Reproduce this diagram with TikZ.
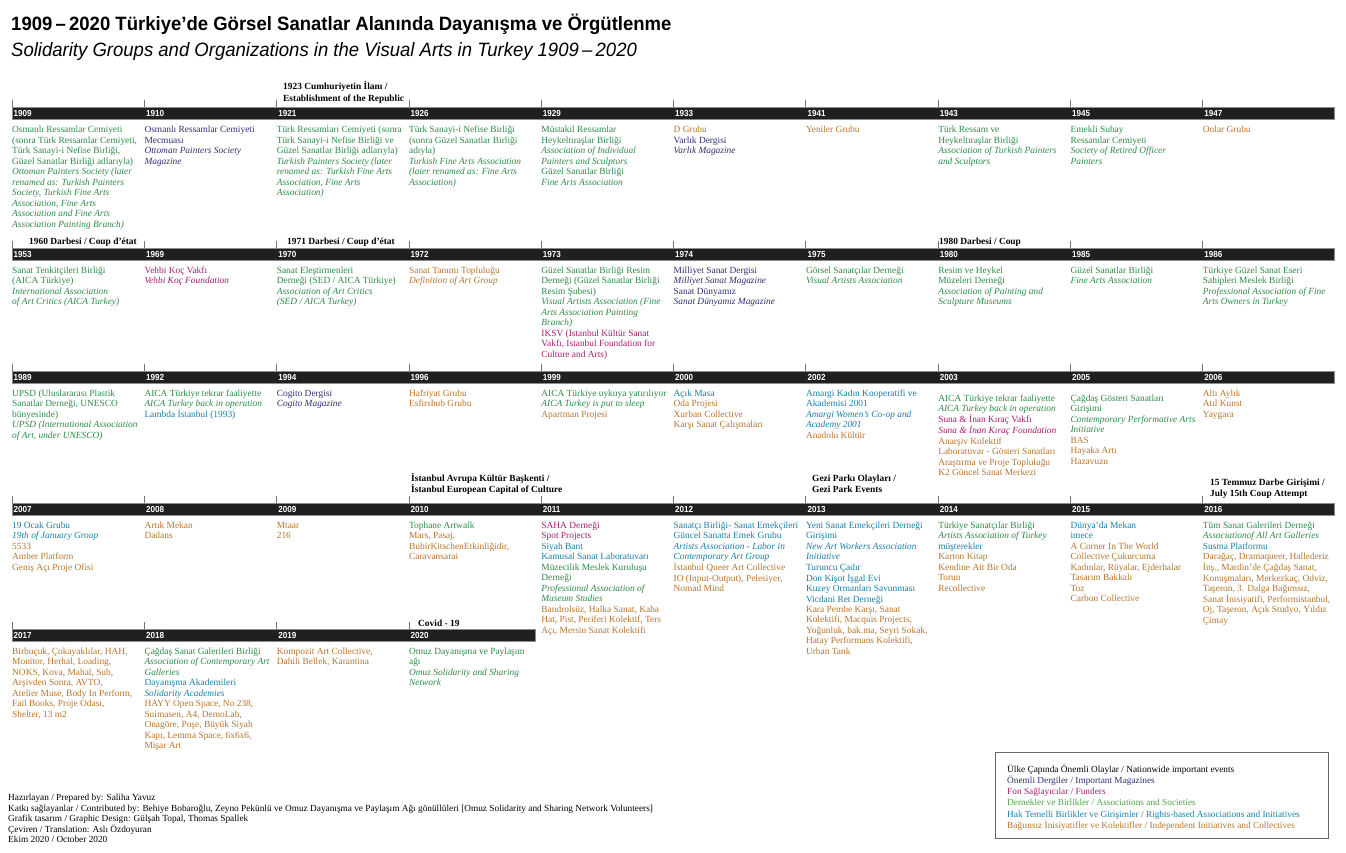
\documentclass[tikz,border=0pt]{standalone}
\usepackage{fontspec}
\setmainfont{Liberation Serif}
\newfontfamily\yearfont[FakeStretch=0.92]{Liberation Sans}
\newfontfamily\titlefont[FakeStretch=0.96]{Liberation Sans}
\definecolor{navy}{HTML}{2D3170}
\definecolor{mag}{HTML}{A3206F}
\definecolor{grn}{HTML}{2F8A48}
\definecolor{grnL}{HTML}{4FA34A}
\definecolor{rteal}{HTML}{1A7EA6}
\definecolor{brn}{HTML}{B7762E}
\definecolor{barc}{HTML}{202020}
\newcommand\cg[1]{{\color{grn}#1}}
\newcommand\cgi[1]{{\color{grn}\itshape #1}}
\newcommand\cn[1]{{\color{navy}#1}}
\newcommand\cni[1]{{\color{navy}\itshape #1}}
\newcommand\cm[1]{{\color{mag}#1}}
\newcommand\cmi[1]{{\color{mag}\itshape #1}}
\newcommand\ct[1]{{\color{rteal}#1}}
\newcommand\cti[1]{{\color{rteal}\itshape #1}}
\newcommand\cb[1]{{\color{brn}#1}}
\newcommand\cbi[1]{{\color{brn}\itshape #1}}
\newcommand\colbox[4]{\node[coltext] (#1) at (#2,#3) {\begin{tabular}[t]{@{}l@{}}#4\end{tabular}};}
\newcommand\evbox[4]{\node[evtext] (#1) at (#2,#3) {\begin{tabular}[t]{@{}l@{}}#4\end{tabular}};}
\begin{document}
\begin{tikzpicture}[x=1pt,y=-1pt,
  coltext/.style={anchor=base west,inner sep=0pt,font=\fontsize{9.4}{10.45}\selectfont},
  evtext/.style={anchor=base west,inner sep=0pt,font=\fontsize{9.4}{11.7}\selectfont\bfseries},
  yr/.style={anchor=west,inner sep=0pt,text=white,font=\yearfont\bfseries\fontsize{8.8}{9}\selectfont},
  tick/.style={draw=black!55,line width=0.7pt},
  bar/.style={fill=barc,draw=black!45,line width=0.5pt}]
\useasboundingbox (0,0) rectangle (1346,853);
\fill[white] (0,0) rectangle (1346,853);
% titles
\node[anchor=base west,inner sep=0pt,font=\titlefont\bfseries\fontsize{19.3}{20}\selectfont] (title) at (11,31) {1909\,–\,2020 Türkiye’de Görsel Sanatlar Alanında Dayanışma ve Örgütlenme};
\node[anchor=base west,inner sep=0pt,font=\titlefont\itshape\fontsize{19.3}{20}\selectfont] (subtitle) at (11,57) {Solidarity Groups and Organizations in the Visual Arts in Turkey 1909\,–\,2020};
% bars
\draw[bar] (12,107) rectangle (1334,119);
\draw[bar] (12,248) rectangle (1334,260);
\draw[bar] (12,371) rectangle (1334,383);
\draw[bar] (12,503) rectangle (1334,515);
\draw[bar] (12,629) rectangle (535,641);
\foreach \i in {0,...,9}{
  \draw[tick] ({12+132.3*\i},100) -- ++(0,7);
  \draw[tick] ({12+132.3*\i},241) -- ++(0,7);
  \draw[tick] ({12+132.3*\i},364) -- ++(0,7);
  \draw[tick] ({12+132.3*\i},496) -- ++(0,7);
}
\foreach \i in {0,...,3}{\draw[tick] ({12+132.3*\i},622) -- ++(0,7);}
% years
\foreach \yv [count=\i from 0] in {1909,1910,1921,1926,1929,1933,1941,1943,1945,1947}
  \node[yr] (y\yv) at ({13.5+132.3*\i},113) {\yv};
\foreach \yv [count=\i from 0] in {1953,1969,1970,1972,1973,1974,1975,1980,1985,1986}
  \node[yr] (y\yv) at ({13.5+132.3*\i},254) {\yv};
\foreach \yv [count=\i from 0] in {1989,1992,1994,1996,1999,2000,2002,2003,2005,2006}
  \node[yr] (y\yv) at ({13.5+132.3*\i},377) {\yv};
\foreach \yv [count=\i from 0] in {2007,2008,2009,2010,2011,2012,2013,2014,2015,2016}
  \node[yr] (y\yv) at ({13.5+132.3*\i},509) {\yv};
\foreach \yv [count=\i from 0] in {2017,2018,2019,2020}
  \node[yr] (y\yv) at ({13.5+132.3*\i},635) {\yv};
% events
\evbox{e1923}{283}{89.5}{1923 Cumhuriyetin İlanı /\\Establishment of the Republic}
\evbox{e1960}{29}{244}{1960 Darbesi / Coup d’état}
\evbox{e1971}{287}{244}{1971 Darbesi / Coup d’état}
\evbox{e1980}{939}{244}{1980 Darbesi / Coup}
\evbox{e2010}{411}{481}{İstanbul Avrupa Kültür Başkenti /\\İstanbul European Capital of Culture}
\evbox{egezi}{812}{481}{Gezi Parkı Olayları /\\Gezi Park Events}
\evbox{e2016}{1210}{485}{15 Temmuz Darbe Girişimi /\\July 15th Coup Attempt}
\evbox{ecovid}{418}{626}{Covid - 19}
% row 1
\colbox{t1909}{12}{133}{\cg{Osmanlı Ressamlar Cemiyeti}\\\cg{(sonra Türk Ressamlar Cemiyeti,}\\\cg{Türk Sanayi-i Nefise Birliği,}\\\cg{Güzel Sanatlar Birliği adlarıyla)}\\\cgi{Ottoman Painters Society (later}\\\cgi{renamed as: Turkish Painters}\\\cgi{Society, Turkish Fine Arts}\\\cgi{Association, Fine Arts}\\\cgi{Association and Fine Arts}\\\cgi{Association Painting Branch)}}
\colbox{t1910}{144.3}{133}{\cn{Osmanlı Ressamlar Cemiyeti}\\\cn{Mecmuası}\\\cni{Ottoman Painters Society}\\\cni{Magazine}}
\colbox{t1921}{276.6}{133}{\cg{Türk Ressamları Cemiyeti (sonra}\\\cg{Türk Sanayi-i Nefise Birliği ve}\\\cg{Güzel Sanatlar Birliği adlarıyla)}\\\cgi{Turkish Painters Society (later}\\\cgi{renamed as: Turkish Fine Arts}\\\cgi{Association, Fine Arts}\\\cgi{Association)}}
\colbox{t1926}{408.9}{133}{\cg{Türk Sanayi-i Nefise Birliği}\\\cg{(sonra Güzel Sanatlar Birliği}\\\cg{adıyla)}\\\cgi{Turkish Fine Arts Association}\\\cgi{(later renamed as: Fine Arts}\\\cgi{Association)}}
\colbox{t1929}{541.2}{133}{\cg{Müstakil Ressamlar}\\\cg{Heykeltıraşlar Birliği}\\\cgi{Association of Individual}\\\cgi{Painters and Sculptors}\\\cg{Güzel Sanatlar Birliği}\\\cgi{Fine Arts Association}}
\colbox{t1933}{673.5}{133}{\cb{D Grubu}\\\cn{Varlık Dergisi}\\\cni{Varlık Magazine}}
\colbox{t1941}{805.8}{133}{\cb{Yeniler Grubu}}
\colbox{t1943}{938.1}{133}{\cg{Türk Ressam ve}\\\cg{Heykeltıraşlar Birliği}\\\cgi{Association of Turkish Painters}\\\cgi{and Sculptors}}
\colbox{t1945}{1070.4}{133}{\cg{Emekli Subay}\\\cg{Ressamlar Cemiyeti}\\\cgi{Society of Retired Officer}\\\cgi{Painters}}
\colbox{t1947}{1202.7}{133}{\cb{Onlar Grubu}}
% row 2
\colbox{t1953}{12}{273.5}{\cg{Sanat Tenkitçileri Birliği}\\\cg{(AICA Türkiye)}\\\cgi{International Association}\\\cgi{of Art Critics (AICA Turkey)}}
\colbox{t1969}{144.3}{273.5}{\cm{Vehbi Koç Vakfı}\\\cmi{Vehbi Koç Foundation}}
\colbox{t1970}{276.6}{273.5}{\cg{Sanat Eleştirmenleri}\\\cg{Derneği (SED / AICA Türkiye)}\\\cgi{Association of Art Critics}\\\cgi{(SED / AICA Turkey)}}
\colbox{t1972}{408.9}{273.5}{\cb{Sanat Tanımı Topluluğu}\\\cbi{Definition of Art Group}}
\colbox{t1973}{541.2}{273.5}{\cg{Güzel Sanatlar Birliği Resim}\\\cg{Derneği (Güzel Sanatlar Birliği}\\\cg{Resim Şubesi)}\\\cgi{Visual Artists Association (Fine}\\\cgi{Arts Association Painting}\\\cgi{Branch)}\\\cm{IKSV (Istanbul Kültür Sanat}\\\cm{Vakfı, Istanbul Foundation for}\\\cm{Culture and Arts)}}
\colbox{t1974}{673.5}{273.5}{\cn{Milliyet Sanat Dergisi}\\\cni{Milliyet Sanat Magazine}\\\cn{Sanat Dünyamız}\\\cni{Sanat Dünyamız Magazine}}
\colbox{t1975}{805.8}{273.5}{\cg{Görsel Sanatçılar Derneği}\\\cgi{Visual Artists Association}}
\colbox{t1980}{938.1}{273.5}{\cg{Resim ve Heykel}\\\cg{Müzeleri Derneği}\\\cgi{Association of Painting and}\\\cgi{Sculpture Museums}}
\colbox{t1985}{1070.4}{273.5}{\cg{Güzel Sanatlar Birliği}\\\cgi{Fine Arts Association}}
\colbox{t1986}{1202.7}{273.5}{\cg{Türkiye Güzel Sanat Eseri}\\\cg{Sahipleri Meslek Birliği}\\\cgi{Professional Association of Fine}\\\cgi{Arts Owners in Turkey}}
% row 3
\colbox{t1989}{12}{396.5}{\cg{UPSD (Uluslararası Plastik}\\\cg{Sanatlar Derneği, UNESCO}\\\cg{bünyesinde)}\\\cgi{UPSD (International Association}\\\cgi{of Art, under UNESCO)}}
\colbox{t1992}{144.3}{396.5}{\cg{AICA Türkiye tekrar faaliyette}\\\cgi{AICA Turkey back in operation}\\\ct{Lambda İstanbul (1993)}}
\colbox{t1994}{276.6}{396.5}{\cn{Cogito Dergisi}\\\cni{Cogito Magazine}}
\colbox{t1996}{408.9}{396.5}{\cb{Hafriyat Grubu}\\\cb{Esfirshub Grubu}}
\colbox{t1999}{541.2}{396.5}{\cg{AICA Türkiye uykuya yatırılıyor}\\\cgi{AICA Turkey is put to sleep}\\\cb{Apartman Projesi}}
\colbox{t2000}{673.5}{396.5}{\ct{Açık Masa}\\\cb{Oda Projesi}\\\cb{Xurban Collective}\\\cb{Karşı Sanat Çalışmaları}}
\colbox{t2002}{805.8}{396.5}{\ct{Amargi Kadın Kooperatifi ve}\\\ct{Akademisi 2001}\\\cti{Amargi Women’s Co-op and}\\\cti{Academy 2001}\\\cb{Anadolu Kültür}}
\colbox{t2003}{938.1}{401.5}{\cg{AICA Türkiye tekrar faaliyette}\\\cgi{AICA Turkey back in operation}\\\cm{Suna \& İnan Kıraç Vakfı}\\\cmi{Suna \& İnan Kıraç Foundation}\\\cb{Anarşiv Kolektif}\\\cb{Laboratuvar - Gösteri Sanatları}\\\cb{Araştırma ve Proje Topluluğu}\\\cb{K2 Güncel Sanat Merkezi}}
\colbox{t2005}{1070.4}{401.5}{\cg{Çağdaş Gösteri Sanatları}\\\cg{Girişimi}\\\cgi{Contemporary Performative Arts}\\\cgi{Initiative}\\\cb{BAS}\\\cb{Hayaka Artı}\\\cb{Hazavuzu}}
\colbox{t2006}{1202.7}{396.5}{\cb{Altı Aylık}\\\cb{Atıl Kunst}\\\cb{Yaygara}}
% row 4
\colbox{t2007}{12}{528.5}{\ct{19 Ocak Grubu}\\\cti{19th of January Group}\\\cb{5533}\\\cb{Amber Platform}\\\cb{Geniş Açı Proje Ofisi}}
\colbox{t2008}{144.3}{528.5}{\cb{Artık Mekan}\\\cb{Dadans}}
\colbox{t2009}{276.6}{528.5}{\cb{Mtaar}\\\cb{216}}
\colbox{t2010}{408.9}{528.5}{\cg{Tophane Artwalk}\\\cb{Mars, Pasaj,}\\\cb{BubirKitschenEtkinliğidir,}\\\cb{Caravansarai}}
\colbox{t2011}{541.2}{528.5}{\cm{SAHA Derneği}\\\cm{Spot Projects}\\\ct{Siyah Bant}\\\ct{Kamusal Sanat Laboratuvarı}\\\cg{Müzecilik Meslek Kuruluşu}\\\cg{Derneği}\\\cgi{Professional Association of}\\\cgi{Museum Studies}\\\cb{Bandrolsüz, Halka Sanat, Kaba}\\\cb{Hat, Pist, Periferi Kolektif, Ters}\\\cb{Açı, Mersin Sanat Kolektifi}}
\colbox{t2012}{673.5}{528.5}{\ct{Sanatçı Birliği- Sanat Emekçileri}\\\ct{Güncel Sanatta Emek Grubu}\\\cti{Artists Association - Labor in}\\\cti{Contemporary Art Group}\\\cb{İstanbul Queer Art Collective}\\\cb{IO (Input-Output), Pelesiyer,}\\\cb{Nomad Mind}}
\colbox{t2013}{805.8}{528.5}{\ct{Yeni Sanat Emekçileri Derneği}\\\ct{Girişimi}\\\cti{New Art Workers Association}\\\cti{Initiative}\\\ct{Turuncu Çadır}\\\ct{Don Kişot İşgal Evi}\\\ct{Kuzey Ormanları Savunması}\\\ct{Vicdani Ret Derneği}\\\cb{Kara Pembe Karşı, Sanat}\\\cb{Kolektifi, Macquis Projects,}\\\cb{Yoğunluk, bak.ma, Seyri Sokak,}\\\cb{Hatay Performans Kolektifi,}\\\cb{Urban Tank}}
\colbox{t2014}{938.1}{528.5}{\cg{Türkiye Sanatçılar Birliği}\\\cgi{Artists Association of Turkey}\\\ct{müşterekler}\\\cb{Karton Kitap}\\\cb{Kendine Ait Bir Oda}\\\cb{Torun}\\\cb{Recollective}}
\colbox{t2015}{1070.4}{528.5}{\ct{Dünya’da Mekan}\\\ct{imece}\\\cb{A Corner In The World}\\\cb{Collective Çukurcuma}\\\cb{Kadınlar, Rüyalar, Ejderhalar}\\\cb{Tasarım Bakkalı}\\\cb{Toz}\\\cb{Carbon Collective}}
\colbox{t2016}{1202.7}{528.5}{\cg{Tüm Sanat Galerileri Derneği}\\\cgi{Associationof All Art Galleries}\\\ct{Susma Platformu}\\\cb{Darağaç, Dramaqueer, Hallederiz}\\\cb{İnş., Mardin’de Çağdaş Sanat,}\\\cb{Konuşmaları, Merkezkaç, Odviz,}\\\cb{Taşeron, 3. Dalga Bağımsız,}\\\cb{Sanat İnisiyatifi, Performistanbul,}\\\cb{Oj, Taşeron, Açık Studyo, Yıldız}\\\cb{Çintay}}
% row 5
\colbox{t2017}{12}{654.5}{\cb{Birbuçuk, Çokayaklılar, HAH,}\\\cb{Monitor, Herhal, Loading,}\\\cb{NOKS, Kova, Mahal, Sub,}\\\cb{Arşivden Sonra, AVTO,}\\\cb{Atelier Muse, Body In Perform,}\\\cb{Fail Books, Proje Odası,}\\\cb{Shelter, 13 m2}}
\colbox{t2018}{144.3}{654.5}{\cg{Çağdaş Sanat Galerileri Birliği}\\\cgi{Association of Contemporary Art}\\\cgi{Galleries}\\\ct{Dayanışma Akademileri}\\\cti{Solidarity Academies}\\\cb{HAYY Open Space, No 238,}\\\cb{Suimasen, A4, DemoLab,}\\\cb{Onagöre, Poşe, Büyük Siyah}\\\cb{Kapı, Lemma Space, 6x6x6,}\\\cb{Mişar Art}}
\colbox{t2019}{276.6}{654.5}{\cb{Kompozit Art Collective,}\\\cb{Dahili Bellek, Karantina}}
\colbox{t2020}{408.9}{654.5}{\cg{Omuz Dayanışma ve Paylaşım}\\\cg{ağı}\\\cgi{Omuz Solidarity and Sharing}\\\cgi{Network}}
% footer
\node[anchor=base west,inner sep=0pt,font=\fontsize{9.3}{10.5}\selectfont] (credits) at (8,800.5) {\begin{tabular}[t]{@{}l@{}}Hazırlayan / Prepared by: Saliha Yavuz\\Katkı sağlayanlar / Contributed by: Behiye Bobaroğlu, Zeyno Pekünlü ve Omuz Dayanışma ve Paylaşım Ağı gönüllüleri [Omuz Solidarity and Sharing Network Volunteers]\\Grafik tasarım / Graphic Design: Gülşah Topal, Thomas Spallek\\Çeviren / Translation: Aslı Özdoyuran\\Ekim 2020 / October 2020\end{tabular}};
% legend
\node[draw=black!60,line width=0.8pt,minimum width=333pt,minimum height=86pt,anchor=north west,inner sep=0pt] (legendbox) at (995,752) {};
\node[anchor=base west,inner sep=0pt,font=\fontsize{9.3}{11.3}\selectfont] (legendtext) at (1007,772) {\begin{tabular}[t]{@{}l@{}}Ülke Çapında Önemli Olaylar / Nationwide important events\\\cn{Önemli Dergiler / Important Magazines}\\\cm{Fon Sağlayıcılar / Funders}\\{\color{grnL}Dernekler ve Birlikler / Associations and Societies}\\\ct{Hak Temelli Birlikler ve Girişimler / Rights-based Associations and Initiatives}\\\cb{Bağımsız İnisiyatifler ve Kolektifler / Independent Initiatives and Collectives}\end{tabular}};
\end{tikzpicture}
\end{document}
